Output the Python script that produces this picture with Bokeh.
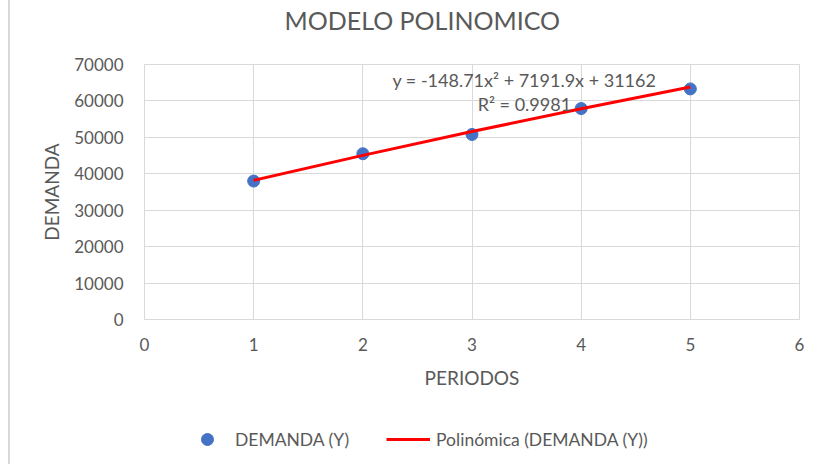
from bokeh.plotting import figure
from bokeh.layouts import column
from bokeh.models import Range1d, FixedTicker, Label, Legend, LegendItem
from bokeh.embed import file_html
from bokeh.resources import INLINE

# ---- data ----
periodos = [1, 2, 3, 4, 5]
demanda = [38000, 45500, 50800, 57900, 63300]
tendencia = [38205, 45051, 51600, 57851, 63804]
x_ticks = [0, 1, 2, 3, 4, 5, 6]
y_ticks = [0, 10000, 20000, 30000, 40000, 50000, 60000, 70000]
titulo = "MODELO POLINOMICO"
ecuacion = "y = -148.71x\u00b2 + 7191.9x + 31162"
r2_texto = "R\u00b2 = 0.9981"
serie_label = "DEMANDA (Y)"
tendencia_label = "Polinómica (DEMANDA (Y))"

FONT = "Lato"
GRAY = "#595959"
GRID = "#d9d9d9"
BLUE = "#4472C4"
RED = "#FF0000"
EDGE = {"background": "linear-gradient(90deg, #ffffff 8px, #d9d9d9 8px, #d9d9d9 10px, #ffffff 10px)"}

p = figure(width=815, height=410, output_backend="svg", toolbar_location=None,
           x_range=Range1d(0, 6), y_range=Range1d(0, 70000),
           min_border_left=144, min_border_right=16, min_border_top=64, min_border_bottom=91)
p.outline_line_color = GRID
p.outline_line_width = 1
p.background_fill_color = "white"
p.border_fill_color = None
p.styles = EDGE

# second (empty) line keeps the title up at the top of the chart
p.title.text = titulo + "\n"
p.title.align = "left"
p.title.offset = 140
p.title.standoff = 0
p.title.text_font = FONT
p.title.text_font_size = "25px"
p.title.text_font_style = "normal"
p.title.text_color = GRAY

p.xaxis.ticker = FixedTicker(ticks=x_ticks)
p.yaxis.ticker = FixedTicker(ticks=y_ticks)
for ax in (p.xaxis[0], p.yaxis[0]):
    ax.axis_line_color = None
    ax.major_tick_line_color = None
    ax.minor_tick_line_color = None
    ax.major_tick_out = 0
    ax.major_label_text_font = FONT
    ax.major_label_text_font_size = "17px"
    ax.major_label_text_color = GRAY
    ax.axis_label_text_font = FONT
    ax.axis_label_text_font_size = "19px"
    ax.axis_label_text_color = GRAY
    ax.axis_label_text_font_style = "normal"

p.xaxis.axis_label = "PERIODOS"
p.yaxis.axis_label = "DEMANDA"
p.xaxis.major_label_standoff = 18
p.xaxis.axis_label_standoff = 12
p.yaxis.major_label_standoff = 21
p.yaxis.axis_label_standoff = 8

p.xgrid.grid_line_color = GRID
p.ygrid.grid_line_color = GRID
p.xgrid.grid_line_width = 1
p.ygrid.grid_line_width = 1

p.scatter(periodos, demanda, size=12, fill_color=BLUE, line_color=BLUE)
p.line(periodos, tendencia, line_color=RED, line_width=3)

p.add_layout(Label(x=3.48, y=65882, text=ecuacion, text_align="center", text_baseline="middle",
                   text_font=FONT, text_font_size="18px", text_color=GRAY))
p.add_layout(Label(x=3.48, y=59294, text=r2_texto, text_align="center", text_baseline="middle",
                   text_font=FONT, text_font_size="18px", text_color=GRAY))

# legend strip under the chart (its renderers hold the same series, outside its view)
q = figure(width=815, height=54, output_backend="svg", toolbar_location=None,
           x_range=Range1d(-20, -19), y_range=Range1d(-20, -19),
           min_border_left=0, min_border_right=0, min_border_top=0, min_border_bottom=0)
q.axis.visible = False
q.grid.visible = False
q.outline_line_color = None
q.border_fill_color = None
q.background_fill_color = None
q.styles = EDGE
k_pts = q.scatter(periodos, demanda, size=12, fill_color=BLUE, line_color=BLUE)
k_line = q.line(periodos, tendencia, line_color=RED, line_width=3)
legend = Legend(items=[LegendItem(label=serie_label, renderers=[k_pts]),
                       LegendItem(label=tendencia_label, renderers=[k_line])],
                orientation="horizontal", location=(41, 10),
                glyph_width=44, glyph_height=30, label_standoff=6, spacing=37,
                padding=0, margin=0, border_line_color=None, background_fill_alpha=0,
                label_text_font=FONT, label_text_font_size="17.5px", label_text_color=GRAY)
q.add_layout(legend, "center")

open("out.html", "w").write(file_html(column(p, q, spacing=0), INLINE))
